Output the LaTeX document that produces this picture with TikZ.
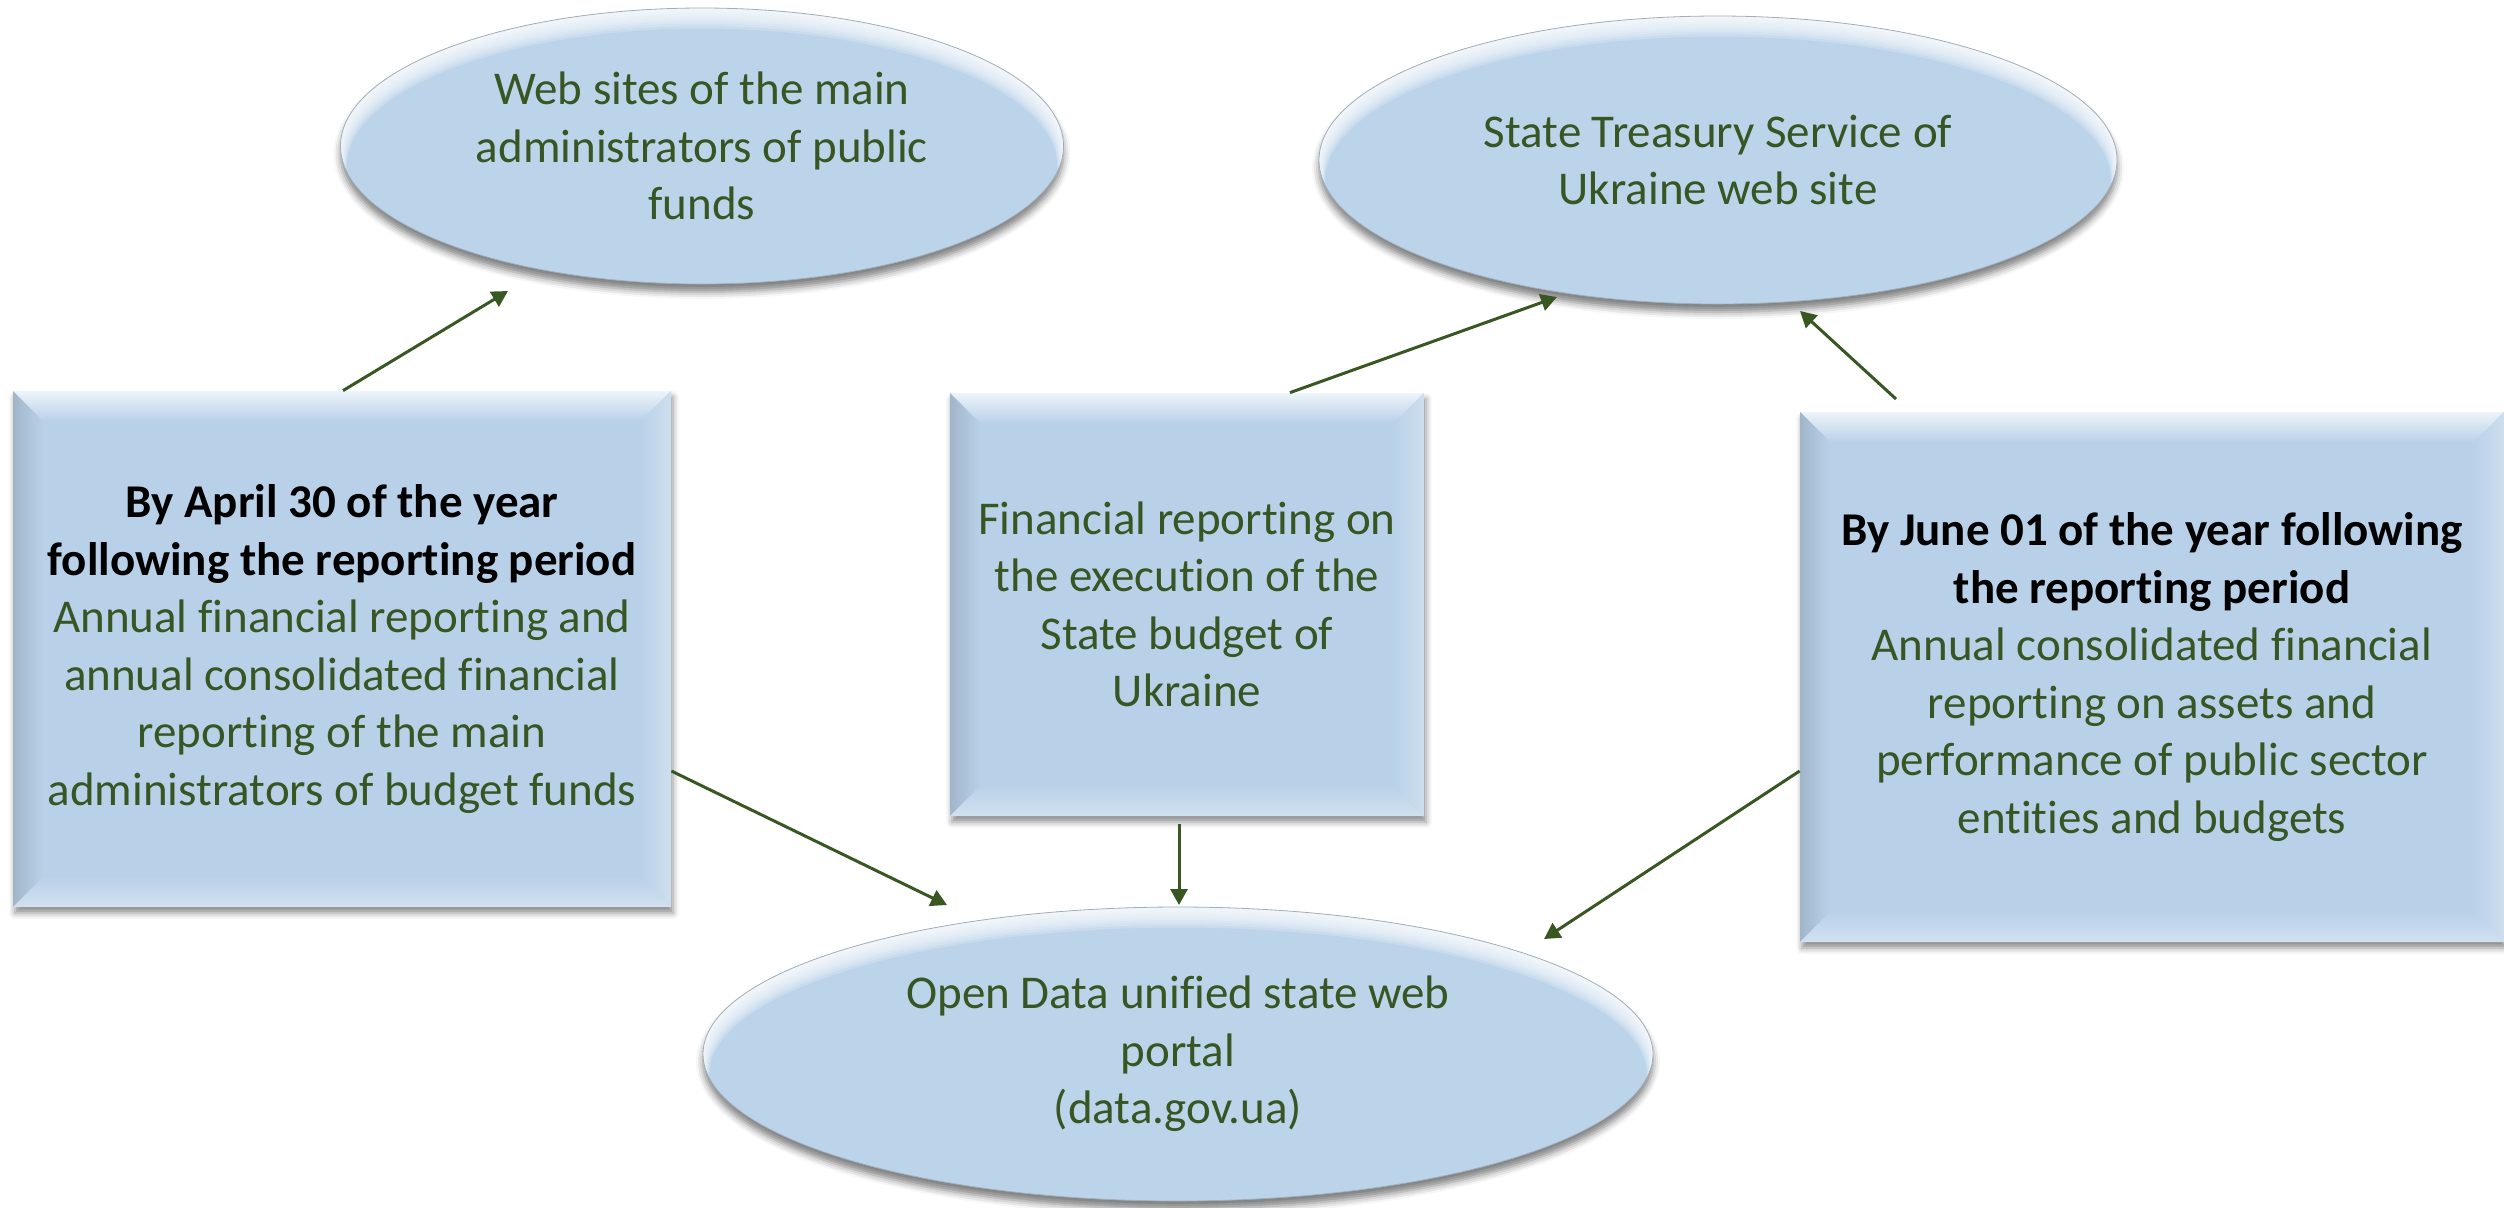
\documentclass[tikz,border=0pt]{standalone}
\usepackage{fontspec}
\setmainfont[Ligatures=NoCommon]{Carlito}
\usetikzlibrary{shapes.geometric,arrows.meta,shadows.blur,calc}
\definecolor{txtgreen}{HTML}{375623}
\definecolor{boxblue}{HTML}{B9D1E8}
\definecolor{ellblue}{HTML}{BCD4EA}
\definecolor{arrgreen}{HTML}{385723}
\tikzset{
  txt/.style={font=\fontsize{23.5}{28.75}\selectfont, text=txtgreen, align=center},
  bevelbox/.style={rectangle, fill=boxblue, inner sep=0pt, txt,
    blur shadow={shadow xshift=1pt, shadow yshift=-3pt, shadow blur radius=3pt, shadow opacity=45},
    path picture={
      \coordinate (nw) at (path picture bounding box.north west);
      \coordinate (ne) at (path picture bounding box.north east);
      \coordinate (sw) at (path picture bounding box.south west);
      \coordinate (se) at (path picture bounding box.south east);
      \shade[top color=white!75!boxblue, bottom color=boxblue]
        (nw) -- (ne) -- ([shift={(-15pt,-15pt)}]ne) -- ([shift={(15pt,-15pt)}]nw) -- cycle;
      \shade[left color=boxblue!78!black!60!boxblue, right color=boxblue]
        (nw) -- ([shift={(15pt,-15pt)}]nw) -- ([shift={(15pt,15pt)}]sw) -- (sw) -- cycle;
      \shade[left color=boxblue, right color=white!30!boxblue]
        (ne) -- ([shift={(-15pt,-15pt)}]ne) -- ([shift={(-15pt,15pt)}]se) -- (se) -- cycle;
      \shade[top color=boxblue, bottom color=white!35!boxblue]
        (sw) -- ([shift={(15pt,15pt)}]sw) -- ([shift={(-15pt,15pt)}]se) -- (se) -- cycle;
    }},
  ell/.style={ellipse, fill=ellblue, draw=ellblue!55!gray, line width=0.4pt, inner sep=0pt,
    blur shadow={shadow xshift=0pt, shadow yshift=-4pt, shadow blur radius=3.5pt, shadow opacity=50},
    path picture={
      \foreach \d in {1.5,2.75,...,11} {
        \fill[white, opacity=0.19, even odd rule]
          let \p1=($(path picture bounding box.north east)-(path picture bounding box.center)$) in
          ([shift={(-2*\x1,2*\y1)}]path picture bounding box.center) rectangle
          ([shift={(2*\x1,-2*\y1)}]path picture bounding box.center)
          ([yshift=-\d pt]path picture bounding box.center) ellipse [x radius=\x1-0.3*\d pt, y radius=\y1];
      }
    }},
  arr/.style={draw=arrgreen, line width=1.5pt, -{Triangle[length=8pt,width=8.5pt]}}
}
\newcommand{\hdline}[1]{\textbf{\color{black}#1}}
\begin{document}
\begin{tikzpicture}[x=0.5pt,y=-0.5pt]
\useasboundingbox (0,0) rectangle (2504,1207);
% ellipses
\node[ell, minimum width=361.5pt, minimum height=138pt] (e1) at (702,146) {};
\node[txt] (t1) at (e1) {Web sites of the main\\administrators of public\\funds};
\node[ell, minimum width=399pt, minimum height=144pt] (e2) at (1718,160) {};
\node[txt] (t2) at (e2) {State Treasury Service of\\Ukraine web site};
\node[ell, minimum width=475pt, minimum height=147pt] (e3) at (1178,1054) {};
\node[txt] (t3) at (e3) {Open Data unified state web\\portal\\(data.gov.ua)};
% boxes
\node[bevelbox, minimum width=329pt, minimum height=258pt] (b1) at (342,649)
  {\hdline{By April 30 of the year}\\\hdline{following the reporting period}\\Annual financial reporting and\\annual consolidated financial\\reporting of the main\\administrators of budget funds};
\node[bevelbox, minimum width=237pt, minimum height=211.5pt] (b2) at (1187,604.5)
  {Financial reporting on\\the execution of the\\State budget of\\Ukraine};
\node[bevelbox, minimum width=352pt, minimum height=265pt] (b3) at (2152,677)
  {\hdline{By June 01 of the year following}\\\hdline{the reporting period}\\Annual consolidated financial\\reporting on assets and\\performance of public sector\\entities and budgets};
% arrow tips
\coordinate (a1) at (508,291);
\coordinate (a2) at (1557,297);
\coordinate (a3) at (1800,311);
\coordinate (a4) at (947,905);
\coordinate (a5) at (1179,905);
\coordinate (a6) at (1544,939);
\coordinate (s3) at (1896,399);
\draw[arr] (b1.north -| 343,0) -- (a1);
\draw[arr] (b2.north -| 1290,0) -- (a2);
\draw[arr] (s3) -- (a3);
\draw[arr] (b1.east |- 0,771) -- (a4);
\draw[arr] ([yshift=-4pt]b2.south -| 1179,0) -- (a5);
\draw[arr] (b3.west |- 0,771) -- (a6);
\end{tikzpicture}
\end{document}
